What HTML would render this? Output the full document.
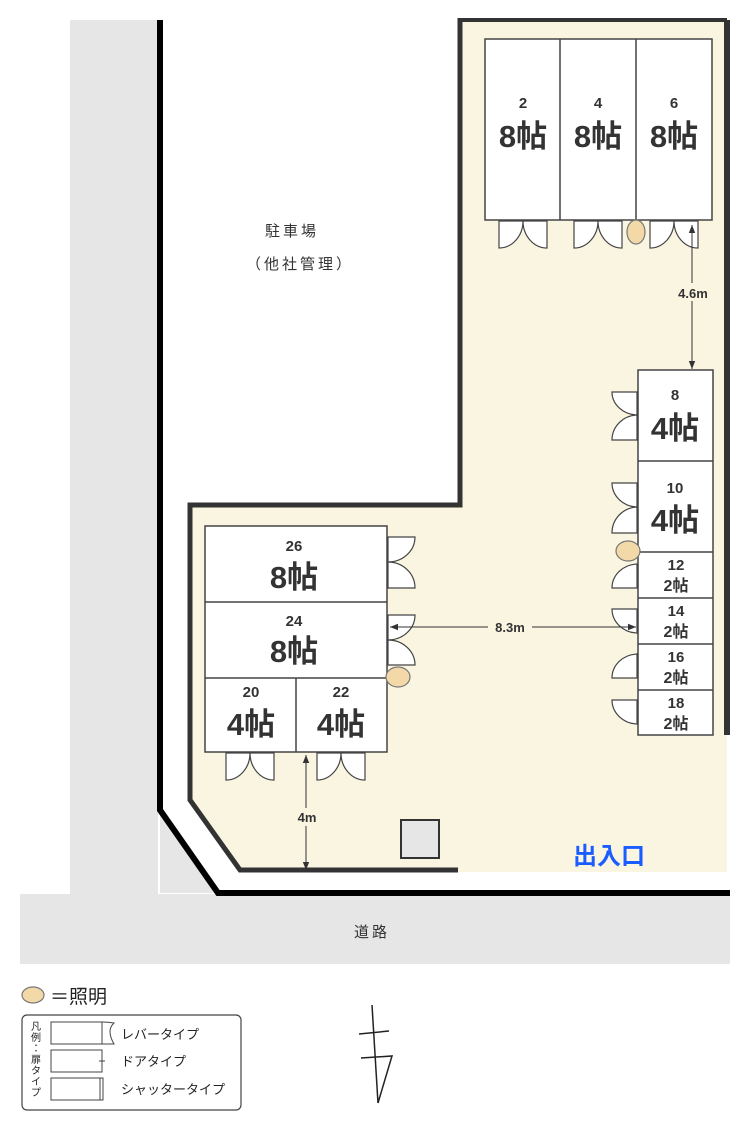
<!DOCTYPE html>
<html><head><meta charset="utf-8"><style>
html,body{margin:0;padding:0;background:#fff;}
svg{display:block;font-family:"Liberation Sans","Noto Sans CJK JP",sans-serif;}
</style></head><body>
<svg width="750" height="1130" viewBox="0 0 750 1130" xmlns="http://www.w3.org/2000/svg">
<defs>
<marker id="ar" viewBox="0 0 10 10" refX="10" refY="5" markerWidth="8" markerHeight="8" orient="auto-start-reverse"><path d="M0,1 L10,5 L0,9z" fill="#333"/></marker>
</defs>
<!-- gray areas -->
<rect x="70" y="20" width="88" height="874" fill="#e6e6e6"/>
<rect x="20" y="894" width="710" height="70" fill="#e6e6e6"/>
<polygon points="160,810 218,893 160,893" fill="#e6e6e6"/>
<!-- beige lot -->
<polygon points="460,20 727,20 727,872 458,872 240,870 190,800 190,505 460,505" fill="#faf5e0"/>
<!-- outer black line -->
<polyline points="160,20 160,810 218,893 730,893" fill="none" stroke="#000" stroke-width="6"/>
<line x1="727" y1="20" x2="727" y2="735" stroke="#333" stroke-width="6"/>
<!-- inner lot line -->
<polyline points="460,18 460,505 190,505 190,800 240,870 458,870" fill="none" stroke="#333" stroke-width="5"/>
<line x1="458" y1="20" x2="727" y2="20" stroke="#333" stroke-width="4"/>

<g fill="#fff" stroke="#444" stroke-width="1.5">
<!-- top rooms -->
<rect x="485" y="39" width="227" height="181"/>
<line x1="560" y1="39" x2="560" y2="220"/><line x1="636" y1="39" x2="636" y2="220"/>
<!-- right column -->
<rect x="638" y="370" width="75" height="365"/>
<line x1="638" y1="461" x2="713" y2="461"/><line x1="638" y1="552" x2="713" y2="552"/>
<line x1="638" y1="598" x2="713" y2="598"/><line x1="638" y1="644" x2="713" y2="644"/>
<line x1="638" y1="690" x2="713" y2="690"/>
<!-- left block -->
<rect x="205" y="526" width="182" height="226"/>
<line x1="205" y1="602" x2="387" y2="602"/><line x1="205" y1="678" x2="387" y2="678"/>
<line x1="296" y1="678" x2="296" y2="752"/>
</g>

<!-- bottom doors (pairs) -->
<g fill="#fff" stroke="#444" stroke-width="1.2">
<path d="M499,221 V248 A24,27 0 0 0 523,221Z"/><path d="M547,221 V248 A24,27 0 0 1 523,221Z"/>
<path d="M574,221 V248 A24,27 0 0 0 598,221Z"/><path d="M622,221 V248 A24,27 0 0 1 598,221Z"/>
<path d="M650,221 V248 A24,27 0 0 0 674,221Z"/><path d="M698,221 V248 A24,27 0 0 1 674,221Z"/>
<path d="M226,753 V780 A24,27 0 0 0 250,753Z"/><path d="M274,753 V780 A24,27 0 0 1 250,753Z"/>
<path d="M317,753 V780 A24,27 0 0 0 341,753Z"/><path d="M365,753 V780 A24,27 0 0 1 341,753Z"/>
<!-- right column side doors -->
<path d="M637,392 H612 A26,23 0 0 0 637,415Z"/><path d="M637,440 H612 A26,25 0 0 1 637,415Z"/>
<path d="M637,483 H612 A26,24 0 0 0 637,507Z"/><path d="M637,533 H612 A26,26 0 0 1 637,507Z"/>
<path d="M637,565 V564 A26,24 0 0 0 612,588 H637Z"/>
<path d="M637,609 H612 A26,24 0 0 0 637,633Z"/>
<path d="M637,654 A26,24 0 0 0 612,678 H637Z"/>
<path d="M637,700 H612 A26,24 0 0 0 637,724Z"/>
<!-- left block side doors -->
<path d="M388,537 H415 A27,25 0 0 1 388,562Z"/><path d="M388,588 H415 A27,26 0 0 0 388,562Z"/>
<path d="M388,615 H415 A27,25 0 0 1 388,640Z"/><path d="M388,665 H415 A27,25 0 0 0 388,640Z"/>
</g>

<!-- lights -->
<g fill="#f3d9a8" stroke="#777" stroke-width="1.2">
<ellipse cx="636" cy="232" rx="9" ry="12"/>
<ellipse cx="628" cy="551" rx="12" ry="10"/>
<ellipse cx="398" cy="677" rx="12" ry="10"/>
<ellipse cx="33" cy="995" rx="11" ry="8"/>
</g>

<!-- gray box -->
<rect x="401" y="820" width="38" height="38" fill="#e6e6e6" stroke="#333" stroke-width="2"/>

<!-- dimension arrows -->
<g stroke="#333" stroke-width="1" marker-start="url(#ar)" marker-end="url(#ar)">
<line x1="692" y1="225" x2="692" y2="369"/>
<line x1="390" y1="627" x2="636" y2="627"/>
<line x1="306" y1="755" x2="306" y2="870"/>
</g>
<g font-weight="bold" font-size="13" fill="#333" text-anchor="middle">
<rect x="674" y="283" width="36" height="18" fill="#faf5e0"/>
<text x="693" y="298">4.6m</text>
<rect x="488" y="618" width="44" height="18" fill="#faf5e0"/>
<text x="510" y="632">8.3m</text>
<rect x="292" y="808" width="30" height="18" fill="#faf5e0"/>
<text x="307" y="822">4m</text>
</g>

<!-- room labels -->
<g fill="#333" font-weight="bold" text-anchor="middle">
<g font-size="15"><text x="523" y="108">2</text><text x="598" y="108">4</text><text x="674" y="108">6</text>
<text x="675" y="400">8</text><text x="675" y="493">10</text>
<text x="294" y="551">26</text><text x="294" y="626">24</text><text x="251" y="697">20</text><text x="341" y="697">22</text>
<text x="676" y="570">12</text><text x="676" y="616">14</text><text x="676" y="662">16</text><text x="676" y="708">18</text></g>
<g font-size="31"><text x="523" y="147">8帖</text><text x="598" y="147">8帖</text><text x="674" y="147">8帖</text>
<text x="675" y="439">4帖</text><text x="675" y="531">4帖</text>
<text x="294" y="588">8帖</text><text x="294" y="662">8帖</text><text x="251" y="735">4帖</text><text x="341" y="735">4帖</text></g>
<g font-size="16"><text x="676" y="591">2帖</text><text x="676" y="637">2帖</text><text x="676" y="683">2帖</text><text x="676" y="729">2帖</text></g>
</g>

<text x="609" y="864" font-size="24" font-weight="bold" fill="#1a5cff" text-anchor="middle">出入口</text>
<g fill="#333" font-size="15" text-anchor="middle" letter-spacing="3">
<text x="292" y="236">駐車場</text>
<text x="300" y="269">（他社管理）</text>
<text x="372" y="937">道路</text>
</g>

<!-- legend -->
<text x="50" y="1003" font-size="19" fill="#222">＝照明</text>
<rect x="22" y="1015" width="219" height="95" rx="5" fill="#fff" stroke="#444" stroke-width="1.2"/>
<g font-size="10" fill="#222" text-anchor="middle">
<text x="36" y="1030">凡</text><text x="36" y="1041">例</text><text x="36" y="1052">：</text><text x="36" y="1063">扉</text><text x="36" y="1074">タ</text><text x="36" y="1085">イ</text><text x="36" y="1096">プ</text>
</g>
<g fill="#fff" stroke="#444" stroke-width="1">
<rect x="51" y="1022" width="51" height="22"/><path d="M102,1022 Q108,1022 114,1023 Q106,1030 114,1044 Q108,1044 102,1044" fill="none"/>
<rect x="51" y="1050" width="51" height="22"/><line x1="99" y1="1061" x2="105" y2="1061"/>
<rect x="51" y="1078" width="51" height="22"/><rect x="100" y="1078" width="3" height="22"/>
</g>
<g font-size="13" fill="#222">
<text x="121" y="1039">レバータイプ</text>
<text x="121" y="1066">ドアタイプ</text>
<text x="121" y="1094">シャッタータイプ</text>
</g>
<!-- north symbol -->
<g stroke="#222" stroke-width="1.5" fill="none">
<line x1="372" y1="1005" x2="378" y2="1103"/>
<line x1="359" y1="1034" x2="389" y2="1031"/>
<polyline points="361,1058 392,1056 378,1103"/>
</g>
</svg>
</body></html>
